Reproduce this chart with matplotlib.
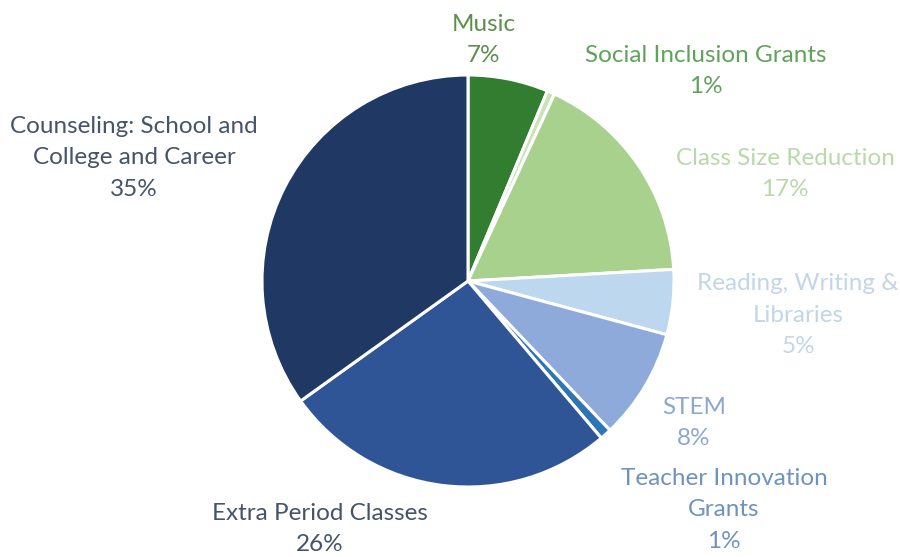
import matplotlib
matplotlib.use("Agg")
import matplotlib.pyplot as plt

categories = ["Music", "Social Inclusion Grants", "Class Size Reduction",
              "Reading, Writing & Libraries", "STEM", "Teacher Innovation Grants",
              "Extra Period Classes", "Counseling: School and College and Career"]
values = [6.3, 0.6, 17.2, 5.1, 8.7, 0.9, 26.3, 34.9]
label_texts = ["Music\n7%", "Social Inclusion Grants\n1%", "Class Size Reduction\n17%",
               "Reading, Writing &\nLibraries\n5%", "STEM\n8%",
               "Teacher Innovation\nGrants\n1%", "Extra Period Classes\n26%",
               "Counseling: School and\nCollege and Career\n35%"]
slice_colors = ["#327d30", "#c9e3b8", "#a9d18e", "#bdd7ee", "#8eaadb",
                "#2e75b6", "#2f5597", "#1f3864"]
label_colors = ["#5c8f4c", "#5fa25a", "#b9d9a9", "#c3d5ea", "#8ea7d1",
                "#6e93bf", "#44546a", "#44546a"]
# label centre positions in pixels (x, y from top)
label_pos = [(484, 40), (706, 71), (785, 174), (798, 315), (694, 423),
             (724, 510), (320, 529), (134, 158)]

W, H = 900, 557
fig = plt.figure(figsize=(W / 100, H / 100), dpi=100)
ax = fig.add_axes([0, 0, 1, 1])

ax.pie(values, colors=slice_colors, startangle=90, counterclock=False,
       center=(468, H - 281), radius=206,
       wedgeprops=dict(edgecolor="white", linewidth=2.2))
ax.set_xlim(0, W)
ax.set_ylim(0, H)
ax.set_aspect("equal")
ax.axis("off")

for txt, col, (px, py) in zip(label_texts, label_colors, label_pos):
    ax.text(px, H - py, txt, ha="center", va="center", color=col,
            fontsize=17.5, family="Lato", linespacing=1.62)

fig.savefig("out.png", dpi=100, facecolor="white")
